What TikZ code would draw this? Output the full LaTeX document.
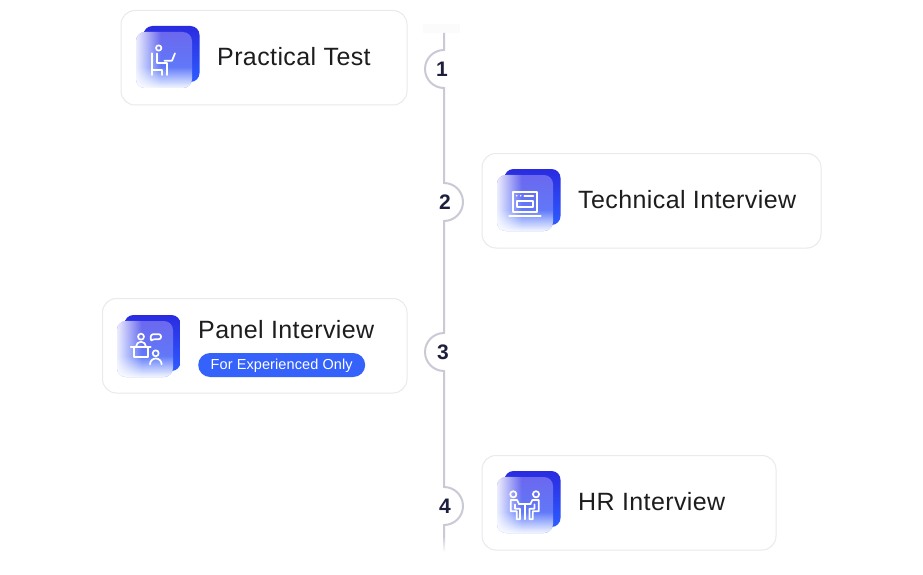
\documentclass[tikz,border=0pt]{standalone}
\usepackage{fontspec}
\setmainfont{Liberation Sans}
\usetikzlibrary{fadings}

\definecolor{railgray}{HTML}{C9CAD6}
\definecolor{cardline}{HTML}{E9E9EE}
\definecolor{inkblack}{HTML}{1D1D20}
\definecolor{inknavy}{HTML}{1E1E3F}
\definecolor{badgeblue}{HTML}{3462FB}
\definecolor{backtop}{HTML}{2A2BE0}
\definecolor{backlow}{HTML}{2E5CFF}
\definecolor{fronttop}{HTML}{6B68EE}
\definecolor{frontlow}{HTML}{5B82FF}

\pgfdeclarehorizontalshading{shadeleft}{100bp}{color(0bp)=(pgftransparent!12); color(25bp)=(pgftransparent!12); color(47bp)=(pgftransparent!100); color(100bp)=(pgftransparent!100)}
\pgfdeclareverticalshading{shadelow}{100bp}{color(0bp)=(pgftransparent!6); color(25bp)=(pgftransparent!6); color(44bp)=(pgftransparent!100); color(100bp)=(pgftransparent!100)}
\pgfdeclarefading{fadeleft}{\pgfuseshading{shadeleft}}
\pgfdeclarefading{fadelow}{\pgfuseshading{shadelow}}

\tikzset{
    card/.style={draw=cardline, line width=1pt, fill=white, rounded corners=14pt,
        anchor=north west, inner sep=0pt, minimum height=94.5pt},
    tileshape/.style={rounded corners=9pt, anchor=north west, inner sep=0pt, outer sep=0pt,
        minimum width=56pt, minimum height=56pt},
    title/.style={anchor=base west, inner sep=0pt, text=inkblack,
        font=\fontsize{25}{28}\selectfont\addfontfeature{LetterSpace=1.6}},
    stepnum/.style={inner sep=0pt, text=inknavy, font=\fontsize{21}{22}\selectfont\bfseries},
    rail/.style={draw=railgray, line width=2pt},
    icon/.style={draw=white, line width=1.7pt, line cap=round, line join=round},
}

\begin{document}
\begin{tikzpicture}[x=1pt,y=-1pt]
    \fill[white] (0,0) rectangle (923,575);
    \useasboundingbox (0,0) rectangle (923,575);

    % the rail
    \node[fill=black!1.5, inner sep=0pt, minimum width=37pt, minimum height=9pt] (railcap) at (441.5,28.5) {};
    \coordinate (railtop) at (444,33);
    \coordinate (railfade) at (444,536);
    \foreach \name/\y in {stop1/50, stop2/183, stop3/333, stop4/487}
        \coordinate (\name) at (444,\y);
    \draw[rail] (railtop) -- (stop1) arc[start angle=270, delta angle=-180, radius=19]
        -- (stop2) arc[start angle=270, delta angle=180, radius=19]
        -- (stop3) arc[start angle=270, delta angle=-180, radius=19]
        -- (stop4) arc[start angle=270, delta angle=180, radius=19]
        -- (railfade);
    \shade[top color=railgray, bottom color=white] (443,536) rectangle (445,552);
    \node[stepnum] (num1) at (442,69) {1};
    \node[stepnum] (num2) at (445,202) {2};
    \node[stepnum] (num3) at (443,352) {3};
    \node[stepnum] (num4) at (445,506) {4};

    % the cards
    \node[card, minimum width=286pt] (card1) at (120.5,10) {};
    \node[card, minimum width=339pt] (card2) at (481.5,153) {};
    \node[card, minimum width=304.5pt] (card3) at (102,298) {};
    \node[card, minimum width=294pt] (card4) at (481.5,455) {};

    % the tiles
    \foreach \n/\x/\y in {1/136/32, 2/497/175, 3/117/321, 4/497/477} {
        \node[tileshape, top color=backtop, bottom color=backlow] (back\n) at (\x+7.5,\y-6) {};
        \node[tileshape, top color=fronttop, bottom color=frontlow] (tile\n) at (\x,\y) {};
        \node[tileshape, fill=white, path fading=fadeleft] (tileleft\n) at (\x,\y) {};
        \node[tileshape, fill=white, path fading=fadelow] (tilelow\n) at (\x,\y) {};
    }

    % seated person
    \begin{scope}[shift={(tile1.north west)}]
        \draw[icon] (22.7,16) circle[radius=2.7];
        \draw[icon] (15.7,21.3) -- (15.7,43);
        \draw[icon] (21.3,21.5) -- (21.3,31.3) -- (30.7,31.3) -- (30.7,43);
        \draw[icon] (15.7,38) -- (26.3,38) -- (26.3,43);
        \draw[icon] (28.5,28.7) -- (36,28.7) -- (39,21.3);
    \end{scope}

    % laptop
    \begin{scope}[shift={(tile2.north west)}]
        \draw[icon] (15.7,16.7) rectangle (40.3,36.7);
        \draw[icon] (19.7,25.7) rectangle (36.3,32.3);
        \draw[icon] (12.3,40.7) -- (43.7,40.7);
        \draw[icon] (27.3,20.7) -- (36.3,20.7);
        \fill[white] (19.7,20.7) circle[radius=0.9] (23.7,20.7) circle[radius=0.9];
    \end{scope}

    % panel
    \begin{scope}[shift={(tile3.north west)}]
        \draw[icon] (24,15.7) circle[radius=3];
        \draw[icon] (19,25.7) arc[start angle=180, delta angle=180, radius=5];
        \draw[icon] (13.7,25.7) -- (33.7,25.7);
        \draw[icon] (17,25.7) -- (17,35.7) -- (31.3,35.7) -- (31.3,25.7);
        \draw[icon, rounded corners=2.2pt] (33.5,20) -- (34,13.2) -- (44,13.2) -- (44,18.2) -- (36,18.2) -- cycle;
        \draw[icon] (38.7,32.3) circle[radius=3];
        \draw[icon] (33,43.3) arc[start angle=180, delta angle=180, radius=5.8];
    \end{scope}

    % two people at a table
    \begin{scope}[shift={(tile4.north west)}]
        \draw[icon] (16.3,17.3) circle[radius=3.1];
        \draw[icon] (39,17.3) circle[radius=3.1];
        \draw[icon] (22,27) -- (20,23) -- (13.7,23) -- (13.7,34.3) -- (19.7,34.3) -- (19.7,42.3) -- (23,42.3) -- (23,31.7) -- (18,31.7) -- (18,27.5);
        \draw[icon] (33.4,27) -- (35.4,23) -- (41.7,23) -- (41.7,34.3) -- (35.7,34.3) -- (35.7,42.3) -- (32.4,42.3) -- (32.4,31.7) -- (37.4,31.7) -- (37.4,27.5);
        \draw[icon] (21.7,27) -- (33.7,27);
        \draw[icon] (27.7,27) -- (27.7,42.3);
    \end{scope}

    % the texts
    \node[title] (label1) at (217,65.5) {Practical Test};
    \node[title] (label2) at (578,208.5) {Technical Interview};
    \node[title] (label3) at (198,338.5) {Panel Interview};
    \node[title] (label4) at (578,510.5) {HR Interview};
    \node[fill=badgeblue, rounded corners=12pt, anchor=west, inner sep=0pt, text=white, text depth=1.5pt,
        minimum width=167pt, minimum height=24pt, font=\fontsize{14.5}{16}\selectfont\addfontfeature{LetterSpace=0.7}] (badge) at (198,365) {For Experienced Only};
\end{tikzpicture}
\end{document}
